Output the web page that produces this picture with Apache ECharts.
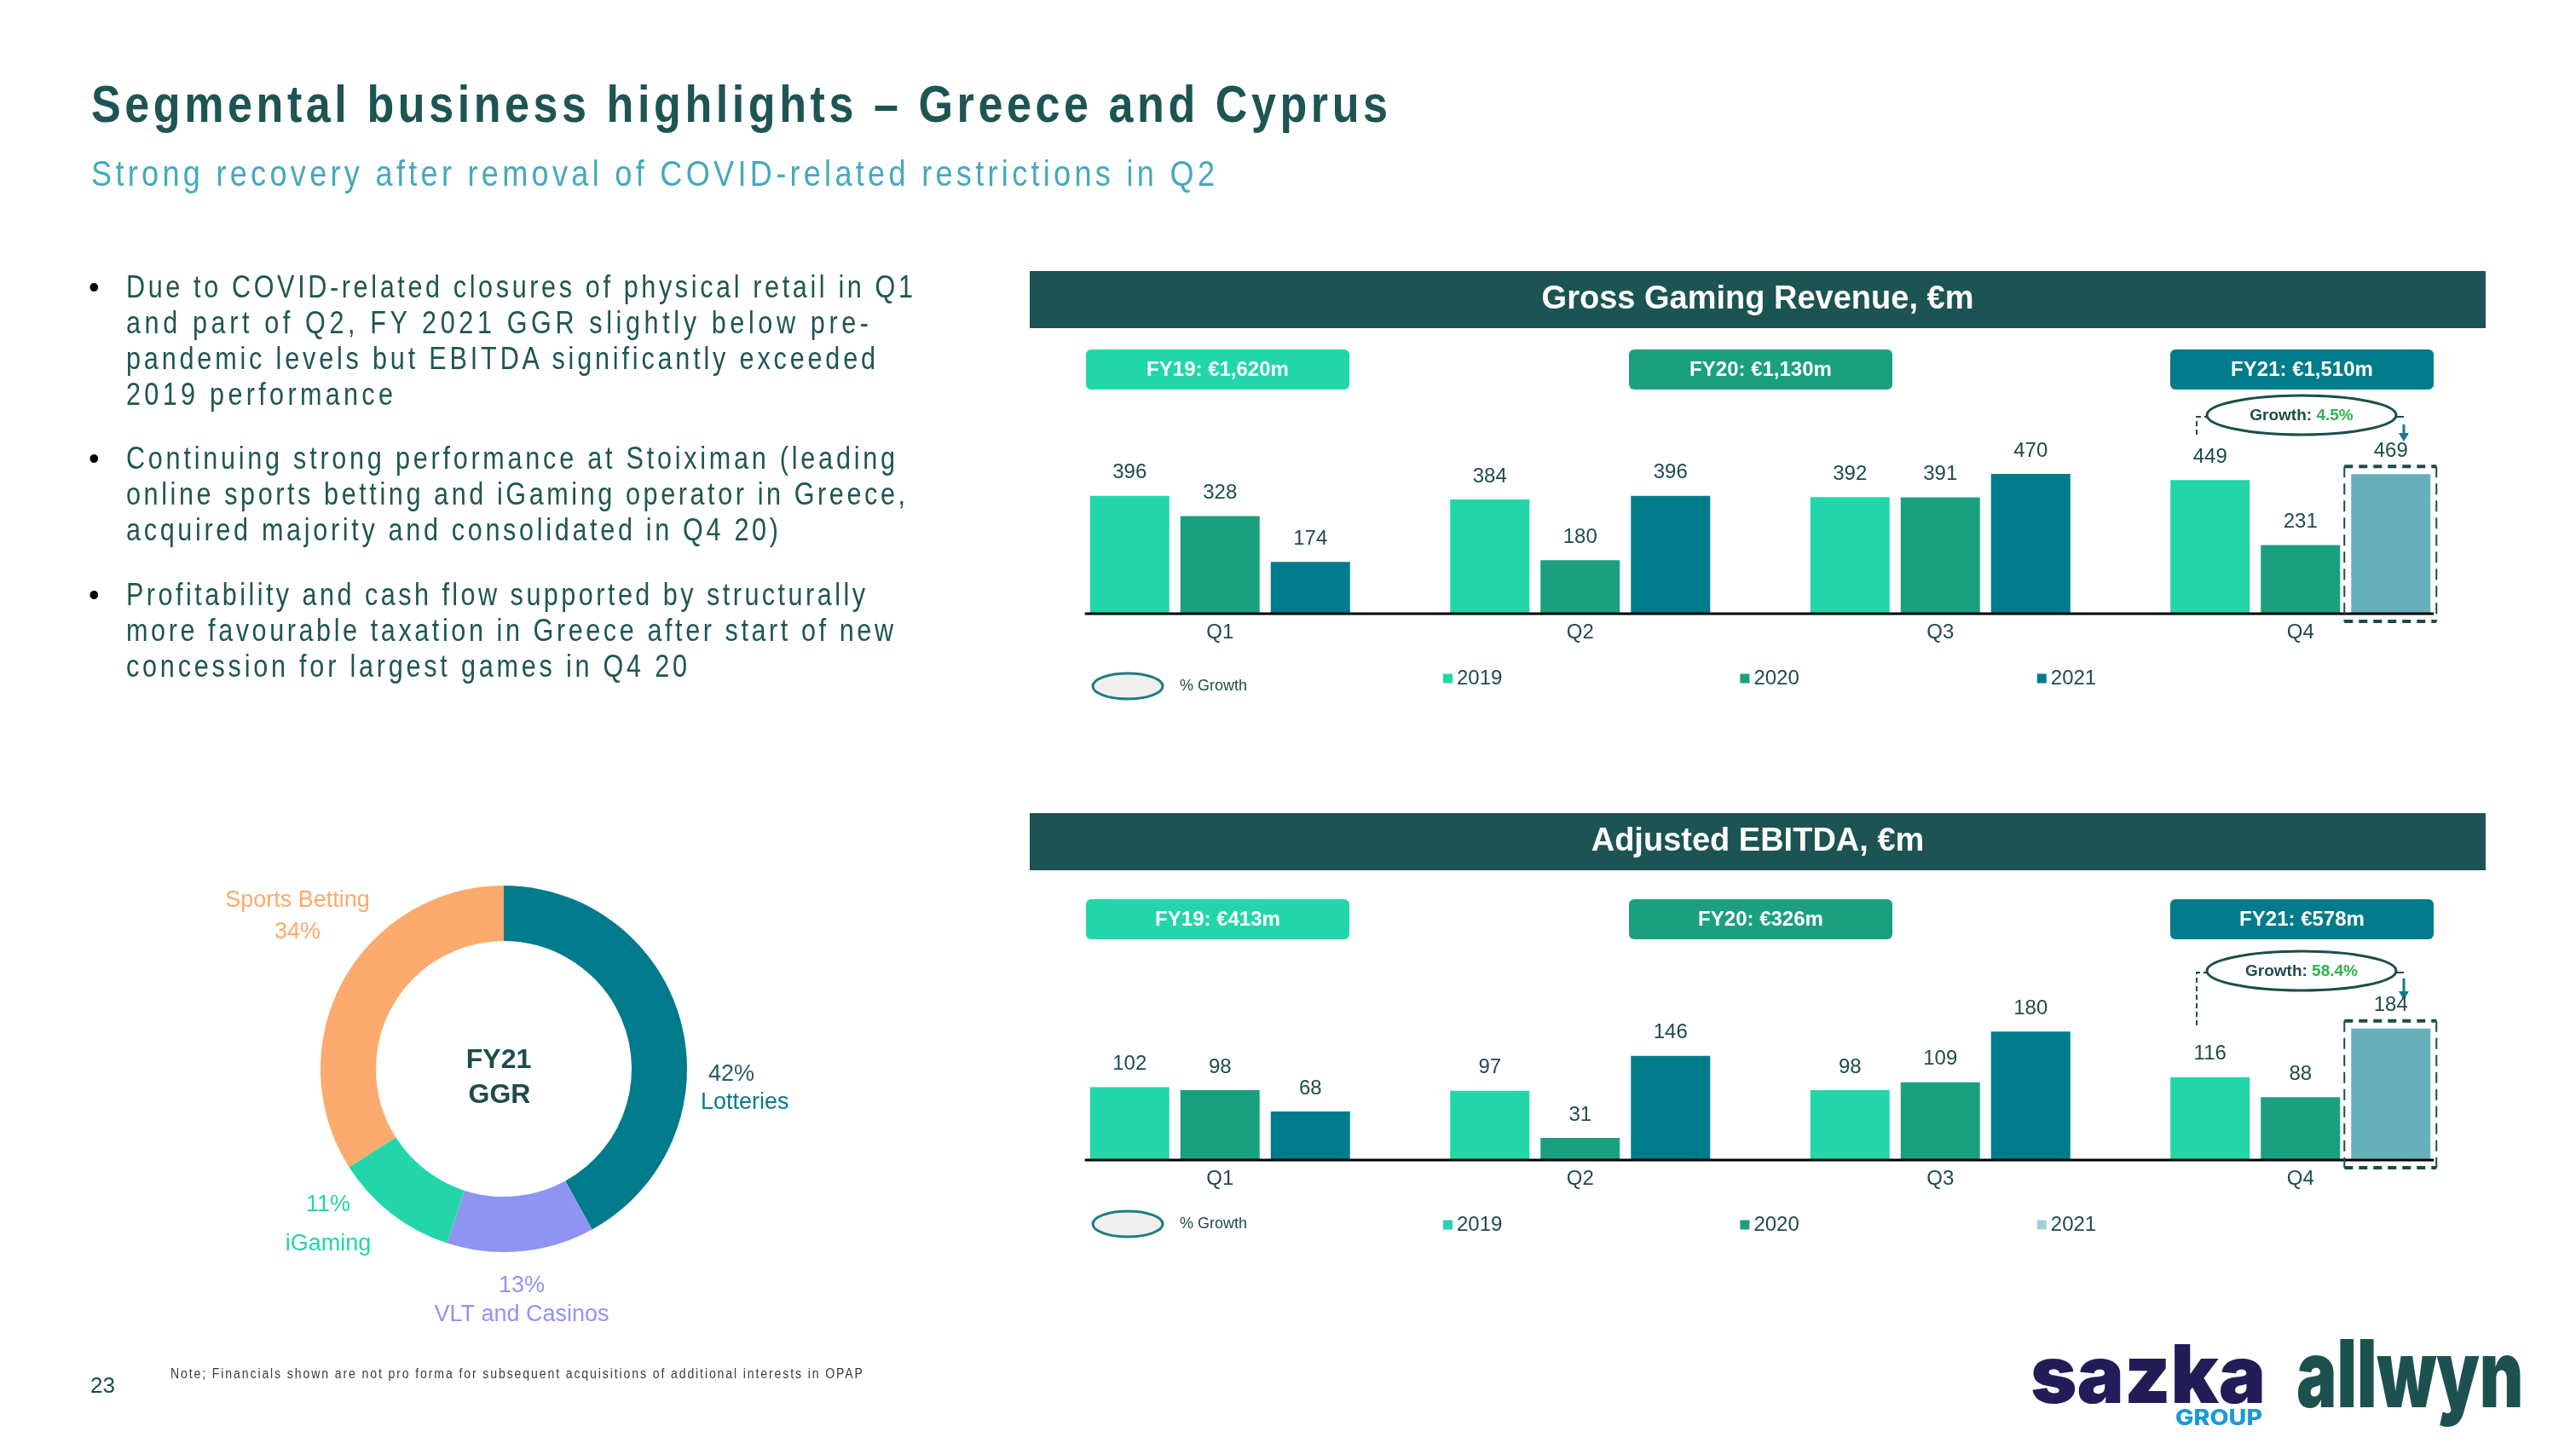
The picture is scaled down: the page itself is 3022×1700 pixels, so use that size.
<!DOCTYPE html>
<html><head><meta charset="utf-8">
<script src="https://cdn.jsdelivr.net/npm/echarts@6/dist/echarts.min.js"></script>
<style>
html,body{margin:0;padding:0;background:#fff;width:3022px;height:1700px;overflow:hidden;}
#chart{position:absolute;left:0;top:0;width:3022px;height:1700px;}
#overlay{position:absolute;left:0;top:0;width:3022px;height:1700px;pointer-events:none;}
.t{position:absolute;white-space:nowrap;transform-origin:0 0;margin:0;padding:0;}
</style></head><body>
<div id="chart"></div>
<div id="overlay"></div>
<script>
// ---------------- data ----------------
const quarters = ['Q1', 'Q2', 'Q3', 'Q4'];
const years = ['2019', '2020', '2021'];
const ggr2019 = [396, 384, 392, 449];
const ggr2020 = [328, 180, 391, 231];
const ggr2021 = [174, 396, 470, 469];
const ebitda2019 = [102, 97, 98, 116];
const ebitda2020 = [98, 31, 109, 88];
const ebitda2021 = [68, 146, 180, 184];
const ggrTotals = ['FY19: €1,620m', 'FY20: €1,130m', 'FY21: €1,510m'];
const ebitdaTotals = ['FY19: €413m', 'FY20: €326m', 'FY21: €578m'];
const ggrGrowth = '4.5%';
const ebitdaGrowth = '58.4%';
const mixNames = ['Lotteries', 'VLT and Casinos', 'iGaming', 'Sports Betting'];
const mixShares = [42, 13, 11, 34];

const titleText = 'Segmental business highlights – Greece and Cyprus';
const subtitleText = 'Strong recovery after removal of COVID-related restrictions in Q2';
const bullets = [
  ['Due to COVID-related closures of physical retail in Q1',
   'and part of Q2, FY 2021 GGR slightly below pre-',
   'pandemic levels but EBITDA significantly exceeded',
   '2019 performance'],
  ['Continuing strong performance at Stoiximan (leading',
   'online sports betting and iGaming operator in Greece,',
   'acquired majority and consolidated in Q4 20)'],
  ['Profitability and cash flow supported by structurally',
   'more favourable taxation in Greece after start of new',
   'concession for largest games in Q4 20']
];
const noteText = 'Note; Financials shown are not pro forma for subsequent acquisitions of additional interests in OPAP';
const pageNo = '23';

// ---------------- styles ----------------
const FONT = '"Liberation Sans", Arial, sans-serif';
const C19 = '#22d6aa', C20 = '#1aa07f', C21 = '#007b8b', C21E = '#67afb9', C21L = '#9fd0d6';
const DARK = '#1f4b4b', HEAD = '#1c5353', GREEN = '#2cb34c';
const MIX_COLORS = ['#007b8b', '#8f94f3', '#22d6aa', '#fdaa6e'];
const BAR_W = 93, BAR_GAP = 0.14;

const grids = [
  {left: 1220, width: 1690, top: 545.5, height: 174.5},
  {left: 1220, width: 1690, top: 1193.4, height: 167.6}
];
const yMax = [500, 200];

function barSeries(name, values, color, gi, lastColor) {
  return {
    type: 'bar', name: name, xAxisIndex: gi, yAxisIndex: gi,
    barWidth: BAR_W, barGap: (BAR_GAP * 100) + '%',
    data: values.map((v, i) => (lastColor && i === 3) ? {value: v, itemStyle: {color: lastColor}} : v),
    itemStyle: {color: color},
    label: {show: true, position: 'top', distance: 15, fontSize: 24, color: DARK, fontFamily: FONT},
    emphasis: {disabled: true}, silent: true
  };
}

function legendFor(gi, top, c2021) {
  return {
    left: 1688, top: top, itemWidth: 11, itemHeight: 11, itemGap: 279, icon: 'rect',
    selectedMode: false, orient: 'horizontal',
    textStyle: {fontSize: 24, color: DARK, fontFamily: FONT},
    data: [{name: years[0]}, {name: years[1]}, {name: years[2], itemStyle: {color: c2021}}]
  };
}

// ---------------- static graphics ----------------
const G = [];
let gid = 0;
function gRect(x, y, w, h, fill, r) {
  G.push({id: 'g' + (gid++), type: 'rect', silent: true, shape: {x: x, y: y, width: w, height: h, r: r || 0}, style: {fill: fill}});
}
function gText(x, y, str, o) {
  G.push({id: 'g' + (gid++), type: 'text', silent: true, x: x, y: y,
    style: Object.assign({text: str, fill: DARK, fontFamily: FONT, fontSize: 24, fontWeight: 'normal',
      textAlign: 'center', textVerticalAlign: 'middle', align: 'center', verticalAlign: 'middle'}, o || {})});
}
function gEllipse(cx, cy, rx, ry, fill, stroke, lw) {
  G.push({id: 'g' + (gid++), type: 'ellipse', silent: true, shape: {cx: cx, cy: cy, rx: rx, ry: ry}, style: {fill: fill, stroke: stroke, lineWidth: lw}});
}
function gPoly(points, stroke, lw, dash) {
  G.push({id: 'g' + (gid++), type: 'polyline', silent: true, shape: {points: points}, style: {fill: null, stroke: stroke, lineWidth: lw, lineDash: dash || null}});
}
function gTri(points, fill) {
  G.push({id: 'g' + (gid++), type: 'polygon', silent: true, shape: {points: points}, style: {fill: fill}});
}

function panel(headerY, headerText, boxY, totals, growth, ellY, bracketBottom, arrowTop, arrowTip, legendY) {
  gRect(1208, headerY, 1708, 67, HEAD);
  gText(2062, headerY + 34, headerText, {fill: '#ffffff', fontSize: 38, fontWeight: 'bold'});
  const bx = [1274, 1911, 2546], bc = [C19, C20, C21];
  for (let i = 0; i < 3; i++) {
    gRect(bx[i], boxY, 309, 47, bc[i], 6);
    gText(bx[i] + 154.5, boxY + 24, totals[i], {fill: '#ffffff', fontSize: 24, fontWeight: 'bold'});
  }
  // growth ellipse + bracket
  gPoly([[2577, bracketBottom], [2577, ellY + 2], [2590, ellY + 2]], DARK, 2, [6, 4]);
  gPoly([[2811, ellY + 2], [2820, ellY + 2]], DARK, 2);
  gPoly([[2820, arrowTop], [2820, arrowTip - 9]], '#137a88', 3);
  gTri([[2814, arrowTip - 10], [2826, arrowTip - 10], [2820, arrowTip]], '#137a88');
  gEllipse(2700, ellY, 111, 23, '#ffffff', '#1d4d4d', 3);
  gText(2700, ellY + 1, '{a|Growth: }{b|' + growth + '}', {
    rich: {a: {fill: DARK, fontFamily: FONT, fontSize: 19, fontWeight: 'bold'},
           b: {fill: GREEN, fontFamily: FONT, fontSize: 19, fontWeight: 'bold'}}
  });
  // % Growth legend key
  gEllipse(1323, legendY + 10, 41, 15, '#efefef', '#1e7b83', 3);
  gText(1384, legendY + 10, '% Growth', {fontSize: 18, textAlign: 'left', align: 'left'});
}
panel(318, 'Gross Gaming Revenue, €m', 410, ggrTotals, ggrGrowth, 487, 510, 498, 518, 795);
panel(954, 'Adjusted EBITDA, €m', 1055, ebitdaTotals, ebitdaGrowth, 1139, 1203, 1148, 1173, 1426);

// donut centre text
gText(585, 1244, 'FY21', {fontSize: 32, fontWeight: 'bold', fill: DARK});
gText(586, 1285, 'GGR', {fontSize: 32, fontWeight: 'bold', fill: DARK});

// ---------------- pie label layout ----------------
const mixNameFirst = [false, false, false, true];
const mixLabelPos = [[822, 1277, 'left'], [612, 1526, 'center'], [385, 1437, 'center'], [349, 1075, 'center']];
const mixLineH = [33, 34, 46, 37];
const mixPctColor = ['#2a5b60', '#8f94f3', '#22d6aa', '#fdaa6e'];
const mixNameColor = ['#0b7a88', '#8f94f3', '#22d6aa', '#fdaa6e'];

const pieData = mixNames.map((n, i) => ({
  name: n, value: mixShares[i], itemStyle: {color: MIX_COLORS[i]},
  label: {rich: {
    v: {color: mixPctColor[i], fontSize: 27, fontFamily: FONT, lineHeight: mixLineH[i], padding: i === 0 ? [0, 0, 0, 9] : 0},
    n: {color: mixNameColor[i], fontSize: 27, fontFamily: FONT, lineHeight: mixLineH[i]}
  }}
}));

const option = {
  animation: false,
  grid: grids,
  xAxis: grids.map((g, i) => ({
    type: 'category', gridIndex: i, data: quarters,
    axisLine: {show: false}, axisTick: {show: false}, splitLine: {show: false},
    axisLabel: {margin: 10, fontSize: 24, color: DARK, fontFamily: FONT}
  })),
  yAxis: grids.map((g, i) => ({type: 'value', gridIndex: i, min: 0, max: yMax[i], show: false, splitLine: {show: false}})),
  legend: [legendFor(0, 779, C21), legendFor(1, 1420, C21L)],
  series: [
    barSeries(years[0], ggr2019, C19, 0),
    barSeries(years[1], ggr2020, C20, 0),
    barSeries(years[2], ggr2021, C21, 0, C21E),
    barSeries(years[0], ebitda2019, C19, 1),
    barSeries(years[1], ebitda2020, C20, 1),
    barSeries(years[2], ebitda2021, C21, 1, C21E),
    {
      type: 'pie', center: [591, 1254], radius: [150, 215], startAngle: 90, clockwise: true,
      silent: true, avoidLabelOverlap: false, emphasis: {disabled: true},
      data: pieData,
      label: {show: true, position: 'outside', fontFamily: FONT, fontSize: 27,
        formatter: p => mixNameFirst[p.dataIndex] ? '{n|' + p.name + '}\n{v|' + p.value + '%}' : '{v|' + p.value + '%}\n{n|' + p.name + '}'},
      labelLine: {show: false},
      labelLayout: p => ({x: mixLabelPos[p.dataIndex][0], y: mixLabelPos[p.dataIndex][1], align: mixLabelPos[p.dataIndex][2], verticalAlign: 'middle'})
    }
  ],
  graphic: {elements: G}
};

const chart = echarts.init(document.getElementById('chart'), null, {renderer: 'canvas', width: 3022, height: 1700});
chart.setOption(option);

// ---------------- axis lines and dashed boxes from the axes' scales ----------------
const last2021 = [ggr2021[3], ebitda2021[3]];
const extra = [];
for (let gi = 0; gi < 2; gi++) {
  const p1 = chart.convertToPixel({xAxisIndex: gi, yAxisIndex: gi}, [quarters[0], 0]);
  const p4 = chart.convertToPixel({xAxisIndex: gi, yAxisIndex: gi}, [quarters[3], 0]);
  const gapPx = BAR_W * BAR_GAP;
  const half = (3 * BAR_W + 2 * gapPx) / 2;
  const base = p1[1];
  extra.push({id: 'ax' + gi, type: 'line', silent: true, z: 10,
    shape: {x1: p1[0] - half - 6, y1: base, x2: p4[0] + half + 4, y2: base}, style: {stroke: '#000', lineWidth: 3}});
  const cx = p4[0] + BAR_W + gapPx;
  const top = chart.convertToPixel({xAxisIndex: gi, yAxisIndex: gi}, [quarters[3], last2021[gi]])[1];
  const x1 = cx - BAR_W / 2 - 8, x2 = cx + BAR_W / 2 + 7, y1 = top - 9, y2 = base + 9;
  const dc = '#1d4a4a';
  extra.push({id: 'bt' + gi, type: 'line', silent: true, z: 10, shape: {x1: x1, y1: y1, x2: x2, y2: y1}, style: {stroke: dc, lineWidth: 4, lineDash: [10, 7]}});
  extra.push({id: 'bb' + gi, type: 'line', silent: true, z: 10, shape: {x1: x1, y1: y2, x2: x2, y2: y2}, style: {stroke: dc, lineWidth: 4, lineDash: [10, 7]}});
  extra.push({id: 'bl' + gi, type: 'line', silent: true, z: 10, shape: {x1: x1, y1: y1, x2: x1, y2: y2}, style: {stroke: dc, lineWidth: 2, lineDash: [13, 7]}});
  extra.push({id: 'br' + gi, type: 'line', silent: true, z: 10, shape: {x1: x2, y1: y1, x2: x2, y2: y2}, style: {stroke: dc, lineWidth: 2, lineDash: [13, 7]}});
}
chart.setOption({graphic: {elements: G.concat(extra)}});

// ---------------- slide text (HTML, with tracking) ----------------
const overlay = document.getElementById('overlay');
const mctx = document.createElement('canvas').getContext('2d');
function addText(txt, o) {
  const fam = o.family || FONT;
  const weight = o.weight || 400;
  const font = weight + ' ' + o.size + 'px ' + fam;
  mctx.font = font;
  const m = mctx.measureText('Hg');
  const d = document.createElement('div');
  d.className = 't';
  d.textContent = txt;
  d.style.fontFamily = fam; d.style.fontSize = o.size + 'px'; d.style.fontWeight = weight;
  d.style.color = o.color; d.style.lineHeight = o.size + 'px';
  overlay.appendChild(d);
  const sc = o.scale || 1;
  if (o.width) {
    const w0 = d.getBoundingClientRect().width;
    const n = Array.from(txt).length;
    const ls = (o.width / sc - w0) / (n - 1);
    d.style.letterSpacing = ls + 'px';
  }
  d.style.transform = 'scaleX(' + sc + ')';
  const baseIn = (o.size - (m.fontBoundingBoxAscent + m.fontBoundingBoxDescent)) / 2 + m.fontBoundingBoxAscent;
  d.style.left = o.x + 'px';
  d.style.top = (o.baseline - baseIn) + 'px';
}
function fitInk(txt, o) {
  const fs = 100;
  const font = o.weight + ' ' + fs + 'px ' + o.family;
  mctx.font = font;
  const m = mctx.measureText(txt);
  const inkW = m.actualBoundingBoxLeft + m.actualBoundingBoxRight;
  const inkA = m.actualBoundingBoxAscent, inkD = m.actualBoundingBoxDescent;
  const sx = (o.x2 - o.x1) / inkW, sy = (o.y2 - o.y1) / (inkA + inkD);
  const d = document.createElement('div');
  d.className = 't'; d.textContent = txt;
  d.style.fontFamily = o.family; d.style.fontSize = fs + 'px'; d.style.fontWeight = o.weight;
  d.style.color = o.color; d.style.lineHeight = fs + 'px';
  overlay.appendChild(d);
  const baseIn = (fs - (m.fontBoundingBoxAscent + m.fontBoundingBoxDescent)) / 2 + m.fontBoundingBoxAscent;
  d.style.transform = 'scale(' + sx + ',' + sy + ')';
  d.style.left = (o.x1 + m.actualBoundingBoxLeft * sx) + 'px';
  d.style.top = (o.y1 - (baseIn - inkA) * sy) + 'px';
}

addText(titleText, {x: 107, baseline: 143, size: 62, weight: 700, color: '#1d5553', scale: 0.84, width: 1521});
addText(subtitleText, {x: 107, baseline: 218, size: 43, weight: 400, color: '#45a9bc', scale: 0.84, width: 1318});

const bulletWidths = [[923, 871, 879, 313], [902, 914, 765], [867, 900, 658]];
const bulletBase = [349, 550, 710];
const LH = 42;
bullets.forEach((lines, bi) => {
  addText('•', {x: 104, baseline: bulletBase[bi], size: 36, color: '#000'});
  lines.forEach((ln, li) => {
    addText(ln, {x: 148, baseline: bulletBase[bi] + li * LH, size: 36, color: '#1f5652', scale: 0.85, width: bulletWidths[bi][li]});
  });
});
addText(noteText, {x: 200, baseline: 1617, size: 16, color: '#333d40', scale: 0.88, width: 812});
addText(pageNo, {x: 106, baseline: 1634, size: 26, color: DARK});

fitInk('sazka', {x1: 2384, y1: 1578, x2: 2654, y2: 1648, family: 'Inter, Roboto, sans-serif', weight: 900, color: '#221d57'});
fitInk('GROUP', {x1: 2553, y1: 1653, x2: 2653, y2: 1672, family: 'Inter, Roboto, sans-serif', weight: 800, color: '#1a9ad7'});
fitInk('allwyn', {x1: 2696, y1: 1572, x2: 2957, y2: 1675, family: 'Inter, Roboto, sans-serif', weight: 900, color: '#1d5150'});
</script>
</body></html>
